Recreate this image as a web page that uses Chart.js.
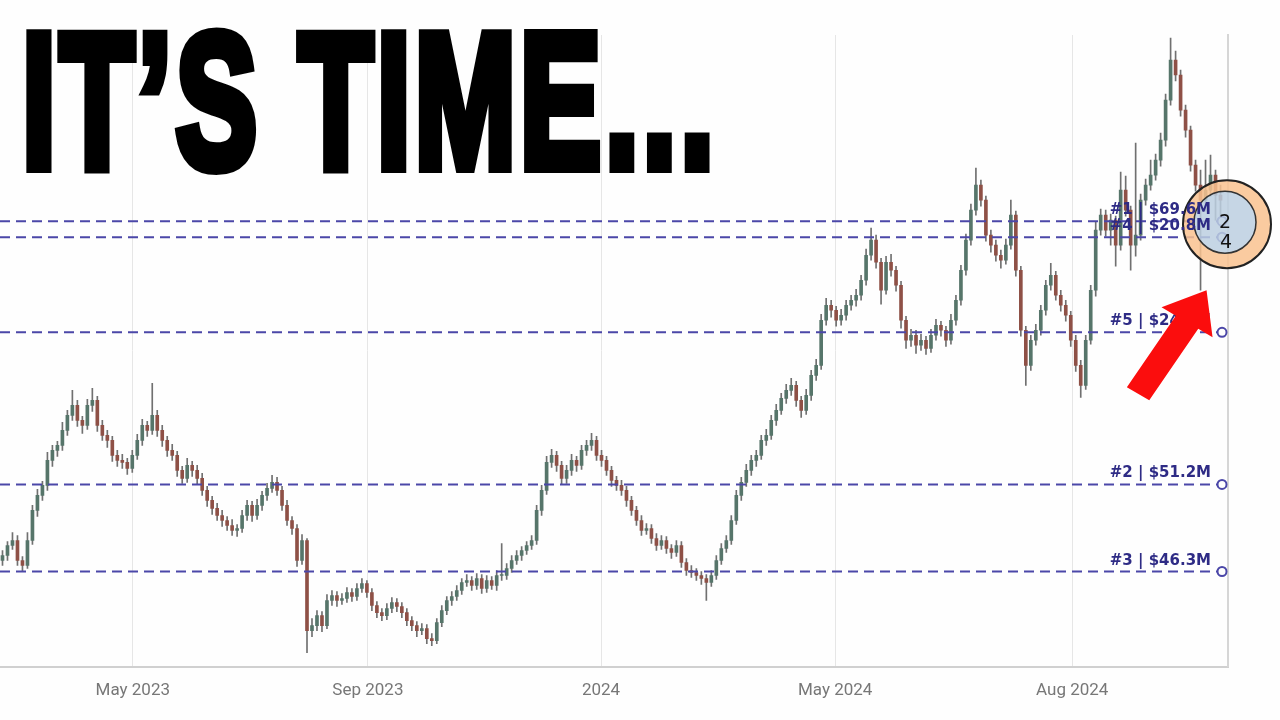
<!DOCTYPE html>
<html>
<head>
<meta charset="utf-8">
<script src="https://cdn.jsdelivr.net/npm/chart.js@4.4.1/dist/chart.umd.min.js"></script>
<style>
  html, body { margin: 0; padding: 0; background: #fefefe; }
  #wrap { position: relative; width: 1280px; height: 720px; overflow: hidden; }
  #chartCanvas { position: absolute; left: 0; top: 0; }
  #headline {
    position: absolute; left: 22px; top: 5px;
    font-family: "Liberation Sans", Arial, sans-serif; font-weight: bold;
    font-size: 192px; line-height: 1; color: #000;
    -webkit-text-stroke: 12px #000; letter-spacing: 6px;
    white-space: nowrap; transform: scaleX(0.635); transform-origin: 0 0;
  }
</style>
</head>
<body>
<div id="wrap">
  <canvas id="chartCanvas" width="1280" height="720"></canvas>
  <div id="headline">IT’S TIME...</div>
</div>
<script>
"use strict";

// daily candles, oldest first
const opens = [106,111,121,126,106,101,126,156,171,181,
  206,216,221,236,251,261,246,241,261,266,
  241,231,226,211,206,204,198,211,226,241,
  236,251,236,226,216,211,196,188,201,196,
  188,176,166,158,151,146,141,136,138,151,
  161,151,161,171,178,184,176,161,146,138,
  106,126,36,41,51,41,66,71,66,68,
  74,70,78,83,74,61,54,51,58,64,
  60,54,46,41,36,38,28,26,44,56,
  66,70,76,84,86,81,88,78,86,81,
  91,91,98,106,111,116,121,126,156,176,
  204,211,201,188,196,206,201,216,221,226,
  211,206,196,186,181,176,166,156,146,136,
  138,128,121,126,118,114,121,104,96,94,
  91,88,84,91,106,118,126,146,171,184,
  196,206,211,226,231,246,256,268,276,281,
  266,256,271,291,301,346,361,356,346,351,
  361,366,371,386,411,426,404,376,404,396,
  381,346,326,331,321,326,318,331,341,336,
  326,346,366,396,426,456,481,466,431,421,
  411,406,421,451,396,336,301,326,336,356,
  381,391,371,361,351,326,301,281,326,376,
  436,451,436,446,421,476,456,421,431,466,
  481,491,506,526,566,606,591,556,536,501,
  481,466,476,491,471];
const highs = [116,125,134,131,110,134,161,177,185,214,
  221,225,244,256,276,266,250,267,278,270,
  246,236,230,216,212,208,216,232,247,245,
  283,256,241,230,222,215,200,208,205,201,
  193,180,170,163,156,150,147,142,156,166,
  165,167,175,183,191,189,180,166,150,142,
  132,128,48,56,55,72,76,75,73,79,
  78,83,88,86,78,65,58,63,69,68,
  64,58,50,45,43,42,33,48,61,70,
  75,81,88,92,90,93,92,91,90,96,
  123,103,111,116,120,125,131,161,181,210,
  217,215,205,201,212,210,221,226,233,230,
  216,210,200,190,186,180,170,160,151,143,
  142,133,131,130,122,126,125,108,101,98,
  95,92,96,111,123,131,151,176,189,202,
  211,216,231,237,251,262,273,282,288,285,
  270,277,296,307,352,368,366,360,357,366,
  371,377,391,417,438,431,408,410,412,400,
  385,350,337,336,332,330,337,347,345,340,
  352,371,401,432,462,498,486,470,436,426,
  416,427,466,455,400,340,331,342,361,386,
  403,395,376,366,355,331,306,331,381,444,
  457,456,452,450,494,490,460,523,472,487,
  506,512,533,572,628,615,596,561,540,506,
  496,506,511,496,481];
const lows = [101,106,117,101,95,98,122,150,166,176,
  200,210,216,231,246,240,233,237,255,235,
  226,219,205,200,198,192,194,207,221,230,
  232,230,220,210,206,190,183,184,190,182,
  171,160,152,146,140,136,131,130,134,146,
  145,147,156,166,174,171,156,141,132,100,
  102,14,30,36,35,38,61,60,62,64,
  65,66,74,69,56,49,46,47,54,55,
  49,41,36,30,32,23,21,23,40,52,
  61,66,72,80,76,77,73,74,77,76,
  86,87,94,102,106,112,117,122,151,172,
  199,195,182,183,191,195,197,211,216,206,
  200,191,180,176,171,160,151,141,131,132,
  123,116,117,113,108,110,99,91,89,86,
  82,66,80,87,102,114,122,142,166,180,
  191,200,207,221,227,241,252,263,271,260,
  249,252,266,286,297,341,349,340,341,346,
  356,360,366,381,406,398,362,372,390,375,
  338,318,320,313,316,312,314,326,330,320,
  322,341,361,391,421,451,460,425,414,405,
  398,402,417,390,330,281,296,321,331,351,
  376,366,355,345,320,295,269,277,322,370,
  431,430,421,400,416,450,396,410,426,461,
  476,486,500,520,561,585,550,529,495,475,
  376,455,470,446,440];
const closes = [111,121,126,106,101,126,156,171,181,206,
  216,221,236,251,261,246,241,261,266,241,
  231,226,211,206,204,198,211,226,241,236,
  251,236,226,216,211,196,188,201,196,188,
  176,166,158,151,146,141,136,138,151,161,
  151,161,171,178,184,176,161,146,138,106,
  126,36,41,51,41,66,71,66,68,74,
  70,78,83,74,61,54,51,58,64,60,
  54,46,41,36,38,28,26,44,56,66,
  70,76,84,86,81,88,78,86,81,91,
  91,98,106,111,116,121,126,156,176,204,
  211,201,188,196,206,201,216,221,226,211,
  206,196,186,181,176,166,156,146,136,138,
  128,121,126,118,114,121,104,96,94,91,
  88,84,91,106,118,126,146,171,184,196,
  206,211,226,231,246,256,268,276,281,266,
  256,271,291,301,346,361,356,346,351,361,
  366,371,386,411,426,404,376,404,396,381,
  346,326,331,321,326,318,331,341,336,326,
  346,366,396,426,456,481,466,431,421,411,
  406,421,451,396,336,301,326,336,356,381,
  391,371,361,351,326,301,281,326,376,436,
  451,436,446,421,476,456,421,431,466,481,
  491,506,526,566,606,591,556,536,501,481,
  466,476,491,471,466];

// month ticks, as candle positions
const tickIndex = [26.1, 73.2, 119.9, 166.8, 214.3];
const tickLabels = ['May 2023', 'Sep 2023', '2024', 'May 2024', 'Aug 2024'];

// liquidity levels
const levelValues = [445, 429, 334, 182, 95];
const levelLabels = ['#1 | $69.6M', '#4 | $20.8M', '#5 | $24.1M', '#2 | $51.2M', '#3 | $46.3M'];

const pointedCandle = 240;
const circleValue = 442;
const circleDigits = ['2', '4'];

const upColor = '#56756a';
const downColor = '#8e5046';
const wickColor = '#707070';
const levelColor = '#4b47a8';

const bodies = {
    type: 'bar',
    data: closes.map((c, i) => ({ x: i, y: [opens[i], c] })),
    backgroundColor: ctx => closes[ctx.dataIndex] >= opens[ctx.dataIndex] ? upColor : downColor,
    barThickness: 3,
    minBarLength: 1,
    grouped: false,
    order: 1
};
const wicks = {
    type: 'bar',
    data: lows.map((l, i) => ({ x: i, y: [l, highs[i]] })),
    backgroundColor: wickColor,
    barThickness: 1,
    grouped: false,
    order: 2
};
const levels = levelValues.map(v => ({
    type: 'line',
    data: [{ x: -0.5, y: v }, { x: 244.3, y: v }],
    borderColor: levelColor,
    borderWidth: 2,
    borderDash: [10, 6],
    pointRadius: [0, 4.5],
    pointBorderWidth: 2,
    pointBorderColor: levelColor,
    pointBackgroundColor: '#fefefe',
    order: 0
}));

const overlay = {
    id: 'overlay',
    afterDatasetsDraw(chart) {
        const c = chart.ctx, a = chart.chartArea;
        const x = chart.scales.x, y = chart.scales.y;
        c.save();

        // highlight circle, slightly see-through
        const cx = a.right - 1, cy = y.getPixelForValue(circleValue);
        c.globalAlpha = 0.85;
        c.beginPath();
        c.arc(cx, cy, 44, 0, Math.PI * 2);
        c.arc(cx - 2, cy - 2, 31, 0, Math.PI * 2, true);
        c.fillStyle = '#f9c28f';
        c.fill('evenodd');
        c.beginPath();
        c.arc(cx - 2, cy - 2, 31, 0, Math.PI * 2);
        c.fillStyle = '#bccfe0';
        c.fill();
        c.globalAlpha = 1;
        c.lineWidth = 2;
        c.strokeStyle = '#222';
        c.beginPath();
        c.arc(cx, cy, 44, 0, Math.PI * 2);
        c.stroke();
        c.lineWidth = 1.5;
        c.strokeStyle = '#333';
        c.beginPath();
        c.arc(cx - 2, cy - 2, 31, 0, Math.PI * 2);
        c.stroke();

        c.font = 'bold 15px "DejaVu Sans", Verdana, sans-serif';
        c.fillStyle = '#2e2b85';
        c.textAlign = 'right';
        c.textBaseline = 'alphabetic';
        levelValues.forEach((v, i) => {
            c.fillText(levelLabels[i], a.right - 17, y.getPixelForValue(v) - 7);
        });

        c.font = '19px "DejaVu Sans", sans-serif';
        c.fillStyle = '#111';
        c.textAlign = 'center';
        c.textBaseline = 'middle';
        c.fillText(circleDigits[0], cx - 2, cy - 1);
        c.fillText(circleDigits[1], cx - 1, cy + 19);

        // red arrow pointing at the long lower wick
        const tx = x.getPixelForValue(pointedCandle) + 6;
        const ty = y.getPixelForValue(lows[pointedCandle]);
        const pts = [[0, 0], [6, 47], [-8.3, 38.6], [-57.3, 110.1], [-79.7, 96.9], [-30.7, 25.4], [-45, 17]];
        c.beginPath();
        pts.forEach((p, i) => i ? c.lineTo(tx + p[0], ty + p[1]) : c.moveTo(tx + p[0], ty + p[1]));
        c.closePath();
        c.fillStyle = '#fb0d0d';
        c.fill();
        c.restore();
    }
};

const ctx = document.getElementById('chartCanvas').getContext('2d');
const chart = new Chart(ctx, {
    type: 'bar',
    data: { datasets: [...levels, bodies, wicks] },
    options: {
        responsive: false,
        animation: false,
        layout: { autoPadding: false, padding: { top: 35, right: 52, bottom: 5, left: 0 } },
        plugins: { legend: { display: false }, tooltip: { enabled: false } },
        scales: {
            x: {
                type: 'linear',
                min: -0.5,
                max: 245.5,
                offset: false,
                afterBuildTicks: axis => { axis.ticks = tickIndex.map(v => ({ value: v })); },
                ticks: {
                    callback: (v, i) => tickLabels[i],
                    autoSkip: false,
                    maxRotation: 0,
                    padding: 14,
                    color: '#777',
                    font: { family: 'Roboto', size: 17 }
                },
                grid: { color: '#e6e6e6', drawTicks: false, offset: false },
                border: { color: '#d0d0d0', width: 2 }
            },
            y: {
                position: 'right',
                min: 0,
                max: 631,
                ticks: { display: false },
                grid: { display: false, drawTicks: false },
                border: { color: '#d6d6d6', width: 2 }
            }
        }
    },
    plugins: [overlay]
});
</script>
</body>
</html>
